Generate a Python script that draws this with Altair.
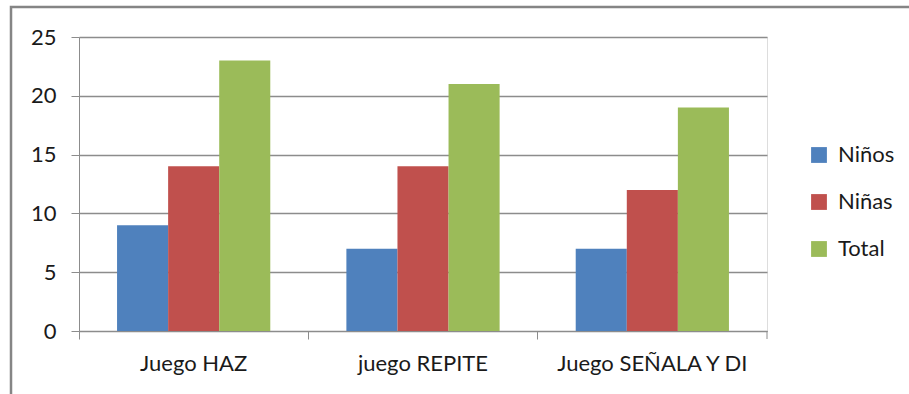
import altair as alt
import pandas as pd

juegos = ["Juego HAZ", "juego REPITE", "Juego SEÑALA Y DI"]
series = ["Niños", "Niñas", "Total"]
ninos = [9, 7, 7]
ninas = [14, 14, 12]
total = [23, 21, 19]
colores = ["#4F81BD", "#C0504D", "#9BBB59"]

rows = []
for i, j in enumerate(juegos):
    for s, vals in zip(series, [ninos, ninas, total]):
        rows.append({"juego": j, "serie": s, "valor": vals[i]})
df = pd.DataFrame(rows)

W, H = 688, 294
FONT = "Lato"
FS = 22
GRAY = "#8c8c8c"
TXT = "#1a1a1a"

bars = alt.Chart(df).mark_bar(stroke=None).encode(
    x=alt.X("juego:N", sort=juegos, title=None,
            scale=alt.Scale(paddingInner=0, paddingOuter=0),
            axis=alt.Axis(labelAngle=0, bandPosition=0, tickSize=8, tickColor=GRAY,
                          domainColor=GRAY, labelFontSize=FS, labelPadding=14,
                          labelLimit=400, labelColor=TXT, labelFont=FONT, grid=False)),
    xOffset=alt.XOffset("serie:N", sort=series,
                        scale=alt.Scale(paddingInner=0, paddingOuter=0.745)),
    y=alt.Y("valor:Q", title=None,
            scale=alt.Scale(domain=[0, 25]),
            axis=alt.Axis(values=[0, 5, 10, 15, 20, 25], tickSize=8, tickColor=GRAY,
                          domainColor=GRAY, gridColor=GRAY, gridWidth=1.5,
                          labelFontSize=FS, labelPadding=15, labelColor=TXT,
                          labelFont=FONT)),
    color=alt.Color("serie:N", sort=series,
                    scale=alt.Scale(domain=series, range=colores),
                    legend=alt.Legend(title=None, orient="none", legendX=729, legendY=107,
                                      symbolType="square", symbolSize=250,
                                      symbolStrokeWidth=0, labelFontSize=FS,
                                      labelFont=FONT, labelColor=TXT,
                                      rowPadding=25, labelOffset=8)),
)

# closing tick at the right end of the category axis
end_tick = alt.Chart(pd.DataFrame({"t": [0]})).mark_rule(color=GRAY).encode(
    x=alt.value(W), y=alt.value(H), y2=alt.value(H + 8)
)

# outer frame of the chart
frame = alt.Chart(pd.DataFrame({"t": [0]})).mark_rect(
    fill=None, stroke="#858585", strokeWidth=2.5
).encode(
    x=alt.value(-68), x2=alt.value(W + 200), y=alt.value(-30), y2=alt.value(H + 120)
)

chart = alt.layer(bars, end_tick, frame).properties(
    width=W, height=H,
    autosize=alt.AutoSizeParams(type="none"),
    padding={"left": 79, "top": 37, "right": 142, "bottom": 63},
).configure_view(stroke=None).configure(background="white")

chart.save("out.html", embed_options={"renderer": "svg", "actions": False})
